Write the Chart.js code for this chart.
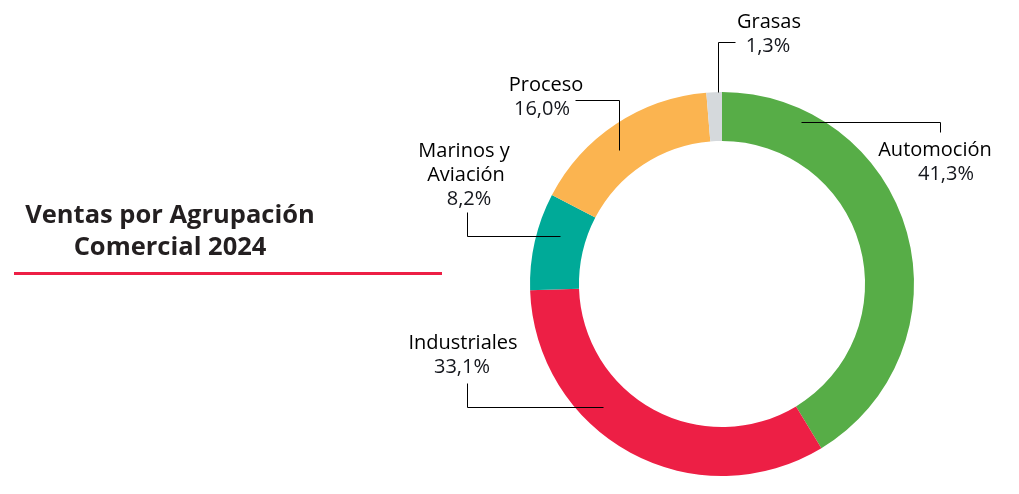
<!DOCTYPE html>
<html>
<head>
<meta charset="utf-8">
<script src="https://cdn.jsdelivr.net/npm/chart.js@4.4.1/dist/chart.umd.min.js"></script>
<style>
  html, body { margin: 0; padding: 0; background: #ffffff; }
  body { width: 1019px; height: 494px; position: relative; overflow: hidden; }
  #wrap { position: absolute; left: 0; top: 0; width: 1019px; height: 494px; }
  #title {
    position: absolute; left: 0; top: 197px; width: 340px;
    text-align: center; font-family: "Open Sans", sans-serif; font-weight: 700;
    font-size: 25.5px; line-height: 32px; color: #231f20;
  }
  #rule { position: absolute; left: 14px; top: 272px; width: 428px; height: 3px; background: #ed1f45; }
</style>
</head>
<body>
<div id="wrap"><canvas id="c" width="1019" height="494"></canvas></div>
<div id="title">Ventas por Agrupación<br>Comercial 2024</div>
<div id="rule"></div>
<script>
// ---- data ----
const categories = ["Automoción", "Industriales", "Marinos y Aviación", "Proceso", "Grasas"];
const shares = [41.3, 33.1, 8.2, 16.0, 1.3];
const shareLabels = ["41,3%", "33,1%", "8,2%", "16,0%", "1,3%"];
const nameLines = [["Automoción"], ["Industriales"], ["Marinos y", "Aviación"], ["Proceso"], ["Grasas"]];
const colors = ["#57ad47", "#ed1f45", "#00aa98", "#fbb450", "#d5d9dc"];

// ---- label layout (annotation positions) ----
const labelLayout = [
  { xs: [935, 946], y0: 150, leader: [[801,122],[940,122],[940,132]] },
  { xs: [463, 462], y0: 343, leader: [[467,383],[467,407],[603,407]] },
  { xs: [464, 466, 469], y0: 151, leader: [[467,212],[467,236],[560,236]] },
  { xs: [546, 542], y0: 85, leader: [[575,100],[619,100],[619,150]] },
  { xs: [769, 768], y0: 22, leader: [[735,42],[718,42],[718,92]] }
];
const lineH = 24;

const labelPlugin = {
  id: 'labels',
  afterDraw(chart) {
    const ctx = chart.ctx;
    ctx.save();
    ctx.strokeStyle = '#000';
    ctx.lineWidth = 1;
    labelLayout.forEach((L, i) => {
      ctx.beginPath();
      L.leader.forEach((p, k) => {
        const x = Math.round(p[0]) + 0.5, y = Math.round(p[1]) + 0.5;
        if (k === 0) ctx.moveTo(x, y); else ctx.lineTo(x, y);
      });
      ctx.stroke();
      const lines = nameLines[i].concat([shareLabels[i]]);
      ctx.font = '20px "Open Sans", sans-serif';
      ctx.textAlign = 'center';
      ctx.textBaseline = 'middle';
      lines.forEach((t, k) => {
        ctx.fillStyle = k === lines.length - 1 ? '#14161c' : '#000';
        ctx.fillText(t, L.xs[k], L.y0 + k * lineH);
      });
    });
    ctx.restore();
  }
};

new Chart(document.getElementById('c'), {
  type: 'doughnut',
  data: {
    labels: categories,
    datasets: [{ data: shares, backgroundColor: colors, borderWidth: 0, hoverOffset: 0 }]
  },
  options: {
    responsive: false,
    animation: false,
    cutout: '74.5%',
    rotation: 0,
    layout: { padding: { left: 530, right: 105, top: 92, bottom: 18 } },
    plugins: { legend: { display: false }, tooltip: { enabled: false } }
  },
  plugins: [labelPlugin]
});
</script>
</body>
</html>
